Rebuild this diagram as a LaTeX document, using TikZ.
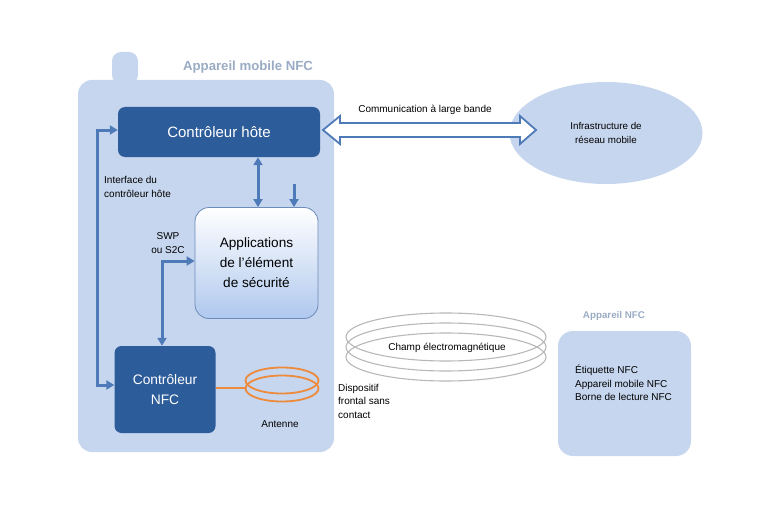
\documentclass[tikz,border=0pt]{standalone}
\usepackage{fontspec}
\setmainfont{Liberation Sans}
\usetikzlibrary{arrows.meta,shapes.geometric}
\definecolor{phonebg}{HTML}{C6D6EE}
\definecolor{darkbox}{HTML}{2D5C9A}
\definecolor{linkblue}{HTML}{4F7AB8}
\definecolor{titlegray}{HTML}{9AABC4}
\definecolor{segrad}{HTML}{AFC8EE}
\definecolor{seborder}{HTML}{6D8CBA}
\definecolor{antorange}{HTML}{EE8A3C}
\definecolor{fieldgray}{HTML}{B8B8B8}
\tikzset{
  darkctrl/.style={fill=darkbox, rounded corners=7pt, text=white, font=\fontsize{15}{18}\selectfont, align=center, inner sep=0pt},
  link/.style={draw=linkblue, line width=3pt, {Triangle[length=8pt,width=9pt]}-{Triangle[length=8pt,width=9pt]}},
  linkone/.style={draw=linkblue, line width=3pt, -{Triangle[length=8pt,width=9pt]}},
  small/.style={font=\fontsize{10}{13.5}\selectfont, align=left, inner sep=0pt},
  titletext/.style={text=titlegray, inner sep=0pt}
}
\begin{document}
\begin{tikzpicture}[x=1pt,y=-1pt]
\useasboundingbox (0,0) rectangle (781,508);
% phone body
\fill[phonebg, rounded corners=9pt] (112,84) -- (112,52) -- (138,52) -- (138,84) -- cycle;
\fill[phonebg, rounded corners=14pt] (78,80) rectangle (334,452);
\node[titletext, font=\bfseries\fontsize{13.2}{15}\selectfont] (ttl) at (248,67) {Appareil mobile NFC};
% host controller
\node[darkctrl, minimum width=202pt, minimum height=50pt] (host) at (219,132) {Contrôleur hôte};
% SE
\node[draw=seborder, line width=0.8pt, top color=white, bottom color=segrad, rounded corners=14pt,
      minimum width=123pt, minimum height=111pt, align=center, inner sep=0pt,
      font=\fontsize{13.6}{20}\selectfont] (se) at (256.5,263) {Applications\\de l’élément\\de sécurité};
% NFC controller
\node[darkctrl, minimum width=101pt, minimum height=87pt, font=\fontsize{13.8}{20}\selectfont] (nfc) at (165,389.5) {Contrôleur\\NFC};
% ellipse infra
\node[ellipse, fill=phonebg, minimum width=193pt, minimum height=102pt, align=center, inner sep=0pt,
      font=\fontsize{9.8}{13.5}\selectfont] (infra) at (606,133) {Infrastructure de\\réseau mobile};
% wide arrow
\draw[linkblue, line width=1.8pt, fill=white, line join=miter]
  (323,130) -- (340,116) -- (340,123) -- (520,123) -- (520,116) -- (536,130)
  -- (520,144) -- (520,137) -- (340,137) -- (340,144) -- cycle;
\node[font=\fontsize{10}{12}\selectfont, inner sep=0pt] (comm) at (425,110) {Communication à large bande};
% host <-> SE
\draw[link] (host.south -| 258,0) -- (se.north -| 258,0);
\coordinate (dtop) at (294,184);
\draw[linkone] (dtop) -- (se.north -| 294,0);
% host interface line
\coordinate (hl) at (97,130);
\coordinate (hb) at (97,385);
\draw[link] (host.west |- 0,130) -- (hl) -- (hb) -- (nfc.west |- 0,385);
\node[small] (hif) at (104,187) [anchor=west] {Interface du\\contrôleur hôte};
% SWP
\coordinate (sc) at (162,261);
\draw[link] (nfc.north -| 162,0) -- (sc) -- (se.west |- 0,261);
\node[font=\fontsize{10}{13.5}\selectfont, align=center, inner sep=0pt] (swp) at (168,243) {SWP\\ou S2C};
% antenna
\coordinate (ant) at (246,388);
\draw[antorange, line width=2.4pt] (nfc.east |- 0,388) -- (ant);
\draw[antorange, line width=1.8pt] (282,380.5) ellipse [x radius=36.5, y radius=13];
\draw[antorange, line width=1.8pt] (282,388.5) ellipse [x radius=36.5, y radius=13];
\node[font=\fontsize{10}{12}\selectfont, inner sep=0pt] (antl) at (280,424) {Antenne};
\node[small] (disp) at (338,401) [anchor=west] {Dispositif\\frontal sans\\contact};
% field
\foreach \yy in {337,347,357}
  \draw[fieldgray, line width=1.1pt] (446,\yy) ellipse [x radius=100, y radius=24];
\node[font=\fontsize{10}{12}\selectfont, inner sep=0pt] (champ) at (447,348) {Champ électromagnétique};
% NFC device
\node[titletext, font=\bfseries\fontsize{9.8}{12}\selectfont] (devt) at (614,316) {Appareil NFC};
\node[fill=phonebg, rounded corners=15pt, minimum width=133pt, minimum height=125pt, inner sep=0pt] (dev) at (624.5,393.5) {};
\node[small, anchor=west] (devtxt) at (575,383) {Étiquette NFC\\Appareil mobile NFC\\Borne de lecture NFC};
\end{tikzpicture}
\end{document}
